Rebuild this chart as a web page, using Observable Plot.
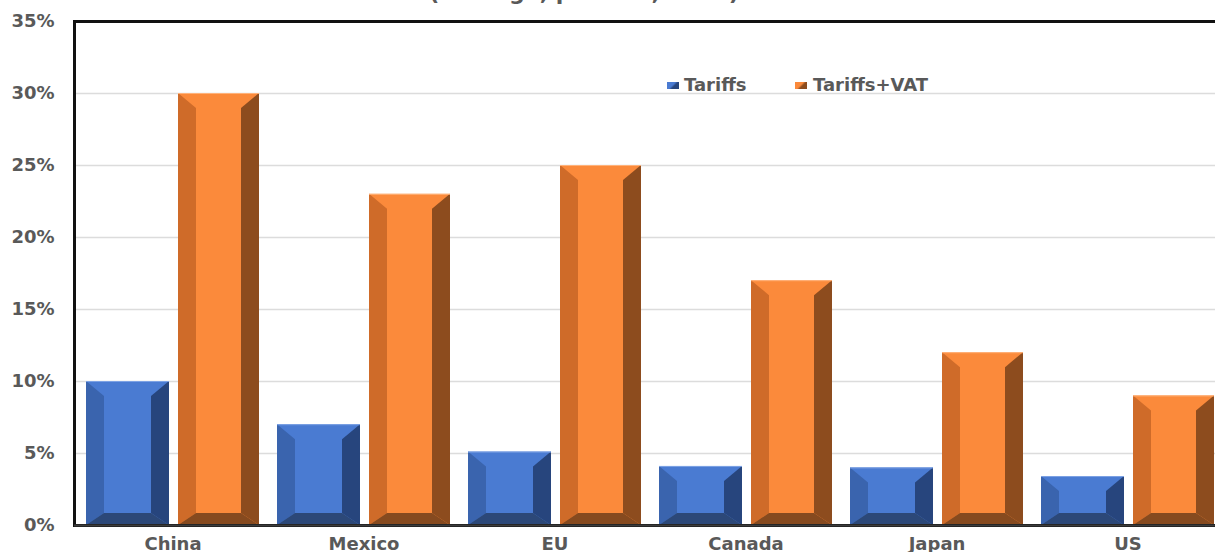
<!DOCTYPE html>
<html>
<head>
<meta charset="utf-8">
<script src="https://cdn.jsdelivr.net/npm/d3@7"></script>
<script src="https://cdn.jsdelivr.net/npm/@observablehq/plot@0.6"></script>
<style>
  html, body { margin: 0; padding: 0; background: #fff; overflow: hidden; }
  #wrap { position: relative; width: 1215px; height: 552px; overflow: hidden; }
  #title { position: absolute; left: 0; width: 1168px; top: -18px; text-align: center;
           font: bold 22px "DejaVu Sans"; line-height: 22px; color: #595959; white-space: nowrap; z-index: 2; }
  .lg-sw { position: absolute; width: 12px; height: 7px; z-index: 2; }
  .lg-tx { position: absolute; font: bold 18px "DejaVu Sans"; line-height: 18px; color: #595959; white-space: nowrap; z-index: 2; }
  #chart svg { display: block; max-width: none !important; width: 1225px !important; height: 552px !important; }
</style>
</head>
<body>
<div id="wrap">
  <div id="title">(average, percent, 2016)</div>
  <div id="legend"></div>
  <div id="chart"></div>
</div>
<script>
// Average tariff and tariff + VAT rates by economy (percent)
const countries = ["China", "Mexico", "EU", "Canada", "Japan", "US"];
const tariffs = [10, 7.0, 5.1, 4.1, 4.0, 3.4];
const tariffsVat = [30, 23, 25, 17, 12, 9];
const yTicks = [0, 5, 10, 15, 20, 25, 30, 35];
const seriesNames = ["Tariffs", "Tariffs+VAT"];

// face, left bevel, right bevel, bottom bevel, top edge
const palette = {
  "Tariffs":     ["#4a7bd2", "#3a64ae", "#27457d", "#2c4878", "#7da2e4"],
  "Tariffs+VAT": ["#fb8a3b", "#cf6b29", "#8d4c1e", "#864a1f", "#ffb27a"]
};

const tariffRows = countries.map((c, i) => ({country: c, value: tariffs[i]}));
const vatRows = countries.map((c, i) => ({country: c, value: tariffsVat[i]}));

const chart = Plot.plot({
  width: 1225,
  height: 552,
  marginLeft: 74,
  marginRight: 0,
  marginTop: 21,
  marginBottom: 27,
  style: {fontFamily: "DejaVu Sans", fontWeight: "bold", fontSize: "18px", color: "#595959", background: "#fff"},
  x: {domain: countries, padding: 0, label: null, tickSize: 0, tickPadding: 12},
  y: {domain: [0, 35], label: null, ticks: yTicks, tickFormat: d => d + "%", tickSize: 0, tickPadding: 20},
  marks: [
    Plot.ruleY(yTicks.filter(t => t > 0 && t < 35), {stroke: "#dcdcdc", strokeWidth: 1.3}),
    Plot.barY(tariffRows, {x: "country", y: "value", fill: palette["Tariffs"][0],
      insetLeft: 9, insetRight: 99, className: "bevel-tariffs"}),
    Plot.barY(vatRows, {x: "country", y: "value", fill: palette["Tariffs+VAT"][0],
      insetLeft: 101, insetRight: 9, className: "bevel-vat"}),
    Plot.frame({stroke: "#111", strokeWidth: 3}),
    Plot.ruleY([0], {stroke: "#3c3c3c", strokeWidth: 2})
  ]
});
document.getElementById("chart").appendChild(chart);

// Turn each flat bar into a bevelled block
function bevel(root, cls, colors) {
  const [face, left, right, bottom, edge] = colors;
  d3.select(root).selectAll(`g.${cls} rect`).each(function () {
    const r = d3.select(this);
    const x = +r.attr("x"), y = +r.attr("y"), w = +r.attr("width"), h = +r.attr("height");
    const s = Math.min(18, w / 4), t = Math.min(15, h / 3), b = Math.min(12, h / 3);
    const parent = d3.select(this.parentNode);
    const pts = a => a.map(p => p.join(",")).join(" ");
    const polys = [
      [left, [[x, y], [x + s, y + t], [x + s, y + h - b], [x, y + h]]],
      [right, [[x + w, y], [x + w - s, y + t], [x + w - s, y + h - b], [x + w, y + h]]],
      [bottom, [[x, y + h], [x + s, y + h - b], [x + w - s, y + h - b], [x + w, y + h]]]
    ];
    for (const [fill, p] of polys) {
      parent.append("polygon").attr("points", pts(p)).attr("fill", fill).attr("stroke", "none");
    }
    parent.append("line").attr("x1", x).attr("x2", x + w).attr("y1", y + 0.5).attr("y2", y + 0.5)
      .attr("stroke", edge).attr("stroke-width", 1);
  });
}
bevel(chart, "bevel-tariffs", palette["Tariffs"]);
bevel(chart, "bevel-vat", palette["Tariffs+VAT"]);

// Legend inside the plot area
const legend = document.getElementById("legend");
const legendPos = [[667, 684], [795, 813]];
seriesNames.forEach((name, i) => {
  const [face, , right] = palette[name];
  const sw = document.createElement("div");
  sw.className = "lg-sw";
  sw.style.left = legendPos[i][0] + "px";
  sw.style.top = "82px";
  sw.style.background = `linear-gradient(135deg, ${face} 0%, ${face} 45%, ${right} 60%, ${right} 100%)`;
  legend.appendChild(sw);
  const tx = document.createElement("div");
  tx.className = "lg-tx";
  tx.style.left = legendPos[i][1] + "px";
  tx.style.top = "76px";
  tx.textContent = name;
  legend.appendChild(tx);
});
</script>
</body>
</html>
